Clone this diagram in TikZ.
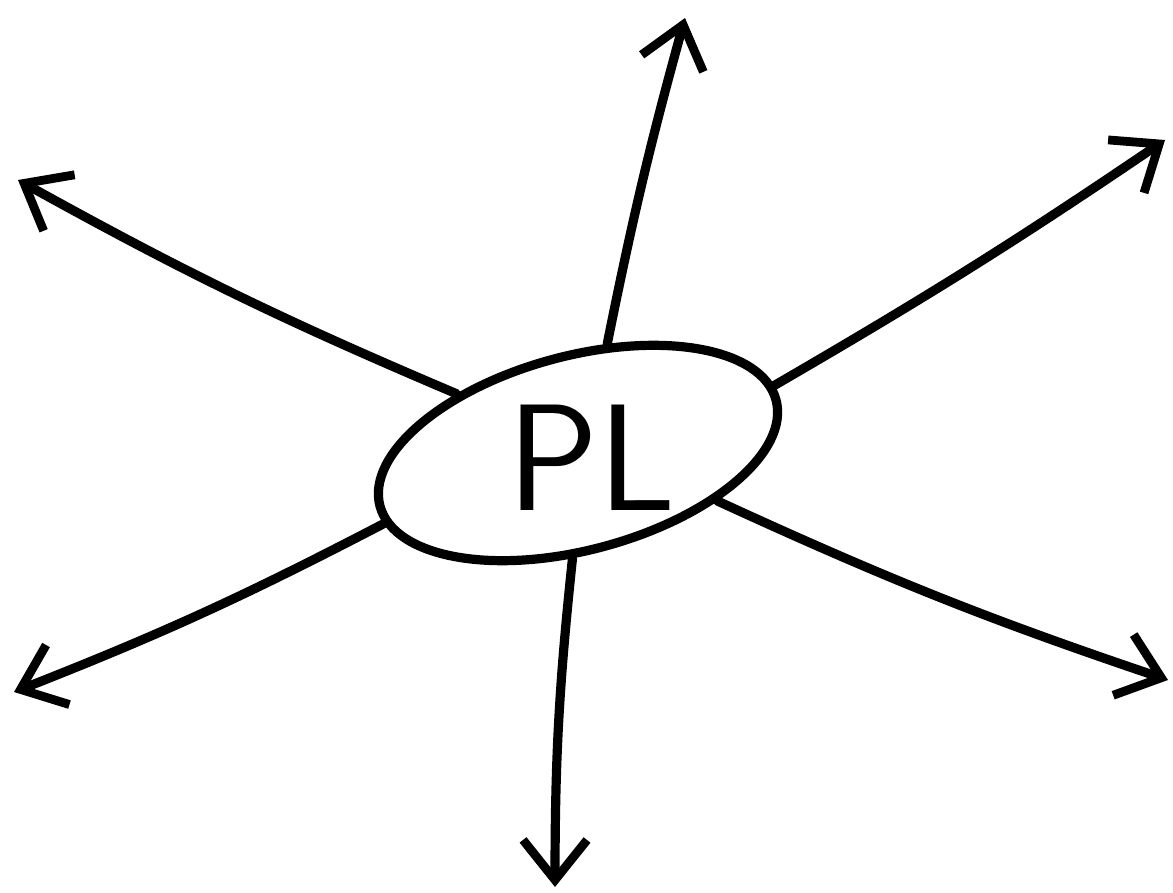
\documentclass[tikz,border=0pt]{standalone}
\usetikzlibrary{shapes.geometric,arrows.meta}
\begin{document}
\begin{tikzpicture}[x=0.5pt,y=-0.5pt,
  ink/.style={line width=4.6pt,line cap=round,line join=round,black},
  ray/.style={ink,-{Straight Barb[length=20pt,width=32pt,line width=4.4pt]}},
  bubble/.style={ellipse,ink,draw,minimum width=205pt,minimum height=97pt,inner sep=0pt,rotate=15}]
\useasboundingbox (0,0) rectangle (1173,893);
\node[bubble] (e) at (578,453) {};
\node[font=\sffamily\fontsize{76}{80}\selectfont,inner sep=0pt] (t) at (592,458) {PL};
\coordinate (n) at (685,18);
\coordinate (nw) at (18,180);
\coordinate (ne) at (1165,140);
\coordinate (sw) at (14,692);
\coordinate (s) at (555,887);
\coordinate (se) at (1168,680);
\draw[ray] (e.60) to[bend left=2] (n);
\draw[ray] (e.139) to[bend left=3] (nw);
\draw[ray] (e.4) to[bend right=2] (ne);
\draw[ray] (e.185) to[bend left=3] (sw);
\draw[ray] (e.252) to[bend right=3] (s);
\draw[ray] (e.326) to[bend right=3] (se);
\end{tikzpicture}
\end{document}
